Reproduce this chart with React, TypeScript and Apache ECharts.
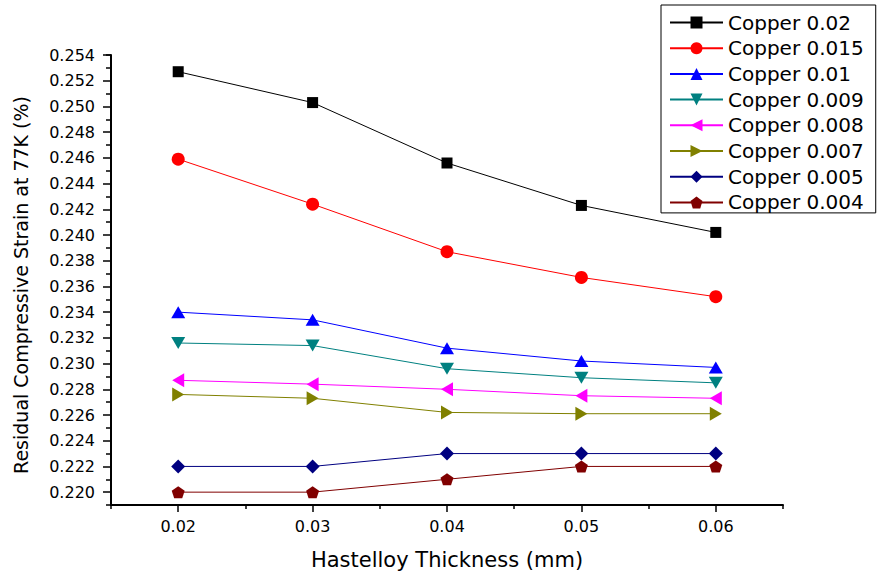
import React, { useEffect, useRef } from "react";
import * as echarts from "echarts";

const thickness = [0.02, 0.03, 0.04, 0.05, 0.06];
const seriesNames = [
  "Copper 0.02",
  "Copper 0.015",
  "Copper 0.01",
  "Copper 0.009",
  "Copper 0.008",
  "Copper 0.007",
  "Copper 0.005",
  "Copper 0.004",
];
const copper002 = [0.2527, 0.2503, 0.2456, 0.2423, 0.2402];
const copper0015 = [0.2459, 0.2424, 0.2387, 0.2367, 0.2352];
const copper001 = [0.234, 0.2334, 0.2312, 0.2302, 0.2297];
const copper0009 = [0.2316, 0.2314, 0.2296, 0.2289, 0.2285];
const copper0008 = [0.2287, 0.2284, 0.228, 0.2275, 0.2273];
const copper0007 = [0.2276, 0.2273, 0.2262, 0.2261, 0.2261];
const copper0005 = [0.222, 0.222, 0.223, 0.223, 0.223];
const copper0004 = [0.22, 0.22, 0.221, 0.222, 0.222];
const allValues = [
  copper002,
  copper0015,
  copper001,
  copper0009,
  copper0008,
  copper0007,
  copper0005,
  copper0004,
];

const colors = ["#000000", "#ff0000", "#0000ff", "#008080", "#ff00ff", "#808000", "#000080", "#800000"];
const symbols = [
  "rect",
  "circle",
  "triangle",
  "path://M0,0L2,0L1,1.7Z",
  "path://M0,1L1.7,0L1.7,2Z",
  "path://M0,0L1.7,1L0,2Z",
  "diamond",
  "path://M1,0L1.951,0.691L1.588,1.809L0.412,1.809L0.049,0.691Z",
];
const symbolSizes: any[] = [11, 13, [14, 12], [14, 12], [12, 14], [12, 14], [14, 14], [13, 12]];

const FONT = "DejaVu Sans";

export default function App() {
  const ref = useRef<HTMLDivElement>(null);
  useEffect(() => {
    if (!ref.current) return;
    const chart = echarts.init(ref.current, null, { renderer: "svg" });
    const series = seriesNames.map((name, i) => ({
      name,
      type: "line",
      xAxisIndex: 0,
      yAxisIndex: 0,
      data: thickness.map((x, j) => [x, allValues[i][j]]),
      symbol: symbols[i],
      symbolSize: symbolSizes[i],
      showSymbol: true,
      lineStyle: { color: colors[i], width: 1 },
      itemStyle: { color: colors[i], borderWidth: 0 },
      emphasis: { disabled: true },
      z: 10 - i,
    }));
    const option: any = {
      animation: false,
      backgroundColor: "#ffffff",
      grid: { left: 111, right: 94, top: 55, bottom: 72, containLabel: false },
      legend: {
        orient: "vertical",
        left: 661,
        top: 5,
        padding: [7.5, 12, 0.5, 8],
        borderColor: "#000000",
        borderWidth: 1,
        itemWidth: 53,
        itemHeight: 15,
        itemGap: 5.7,
        textStyle: { fontFamily: FONT, fontSize: 20, color: "#000000", lineHeight: 20 },
        data: seriesNames,
      },
      xAxis: [
        {
          type: "value",
          min: 0.015,
          max: 0.065,
          splitNumber: 5,
          position: "bottom",
          name: "Hastelloy Thickness (mm)",
          nameLocation: "middle",
          nameGap: 44,
          nameTextStyle: { fontFamily: FONT, fontSize: 21, color: "#000000" },
          axisLine: { show: true, onZero: false, lineStyle: { color: "#000000", width: 2 } },
          axisTick: { show: true, length: 7, lineStyle: { color: "#000000", width: 1.5 } },
          axisLabel: {
            showMinLabel: false,
            showMaxLabel: false,
            fontFamily: FONT,
            fontSize: 16,
            color: "#000000",
            margin: 13,
            formatter: (v: number) => v.toFixed(2),
          },
          splitLine: { show: false },
        },
        {
          type: "value",
          min: 0.015,
          max: 0.065,
          interval: 0.01,
          position: "bottom",
          axisLine: { show: false, onZero: false },
          axisTick: { show: true, length: 4, lineStyle: { color: "#000000", width: 1.5 } },
          axisLabel: { show: false },
          splitLine: { show: false },
        },
      ],
      yAxis: [
        {
          type: "value",
          min: 0.219,
          max: 0.254,
          splitNumber: 17,
          position: "left",
          name: "Residual Compressive Strain at 77K (%)",
          nameLocation: "middle",
          nameGap: 81,
          nameTextStyle: { fontFamily: FONT, fontSize: 19, color: "#000000", padding: [0, 10, 0, 0] },
          axisLine: { show: true, onZero: false, lineStyle: { color: "#000000", width: 2 } },
          axisTick: { show: true, length: 8, lineStyle: { color: "#000000", width: 1.5 } },
          axisLabel: {
            showMinLabel: false,
            showMaxLabel: true,
            fontFamily: FONT,
            fontSize: 16,
            color: "#000000",
            margin: 16,
            formatter: (v: number) => v.toFixed(3),
          },
          splitLine: { show: false },
        },
        {
          type: "value",
          min: 0.219,
          max: 0.254,
          interval: 0.002,
          position: "left",
          axisLine: { show: false, onZero: false },
          axisTick: { show: true, length: 5, lineStyle: { color: "#000000", width: 1.5 } },
          axisLabel: { show: false },
          splitLine: { show: false },
        },
      ],
      series,
    };
    chart.setOption(option);
    return () => chart.dispose();
  }, []);
  return (
    <div
      ref={ref}
      style={{ position: "fixed", left: 0, top: 0, width: 877, height: 577, background: "#fff" }}
    />
  );
}
